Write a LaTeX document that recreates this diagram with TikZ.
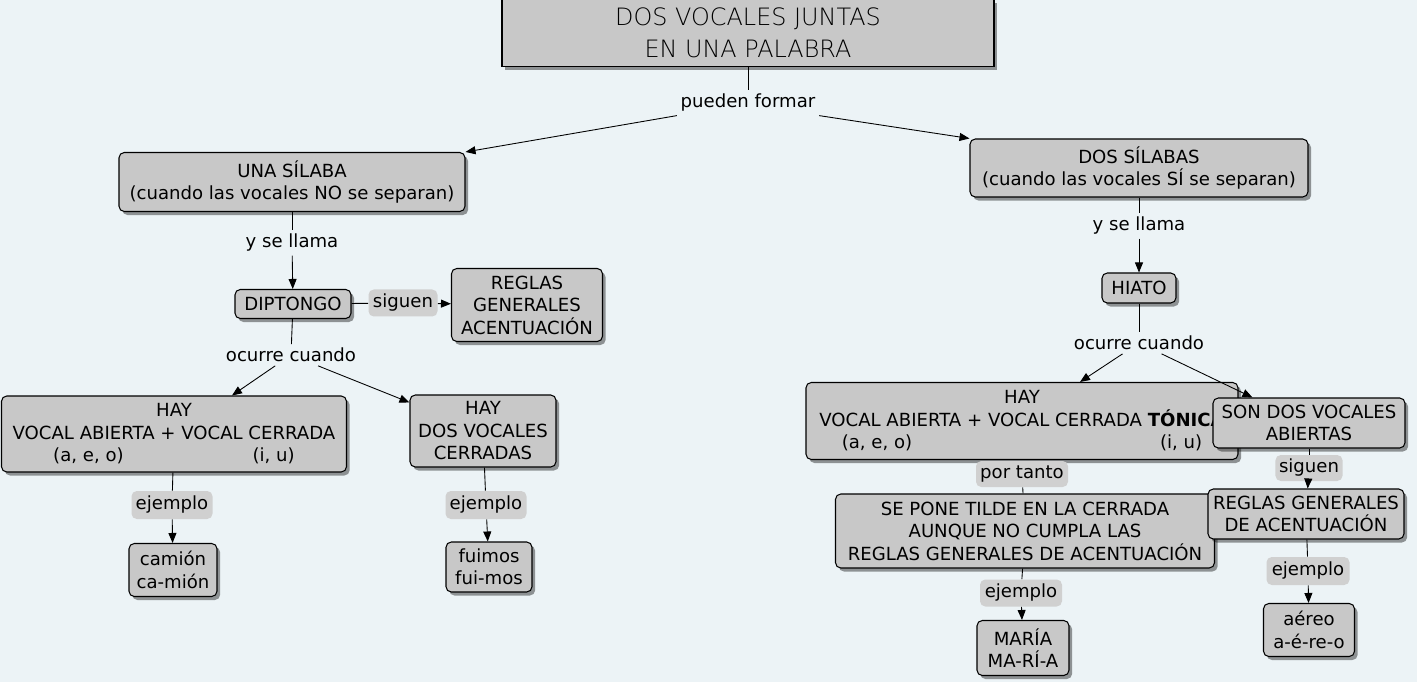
\documentclass[tikz,border=0pt]{standalone}
\usepackage{fontspec}
\setmainfont{DejaVu Sans}
\IfFontExistsTF{DejaVuSans-ExtraLight.ttf}{\newfontfamily\titlefont{DejaVuSans-ExtraLight.ttf}}{\newfontfamily\titlefont{DejaVu Sans}}
\usetikzlibrary{arrows.meta,positioning,shadows}
\definecolor{bgcol}{HTML}{ECF3F6}
\definecolor{boxgray}{HTML}{C8C8C8}
\definecolor{lblgray}{HTML}{D0D0D0}

\begin{document}
\begin{tikzpicture}[x=0.02cm,y=-0.02cm,
    cbox/.style={draw=black,line width=0.6pt,rounded corners=3pt,fill=boxgray,align=center,inner sep=2pt,
      font=\fontsize{10.3}{12.8}\selectfont,
      drop shadow={shadow xshift=1.8pt,shadow yshift=-2pt,fill=black,opacity=0.4}},
    sz/.style 2 args={minimum width=#1*0.02cm,minimum height=#2*0.02cm},
    lbl/.style={inner sep=2pt,align=center,font=\fontsize{10.3}{12.8}\selectfont},
    lblf/.style={lbl,fill=lblgray,rounded corners=3pt},
    arr/.style={-{Triangle[length=2mm,width=1.6mm]},line width=0.5pt},
    ln/.style={line width=0.5pt}]
    \fill[bgcol](0,0)rectangle(1417,682);
    \useasboundingbox(0,0)rectangle(1417,682);
    % top
    \node[cbox,sz={492}{67},rounded corners=0pt,font=\titlefont\fontsize{13.6}{18.2}\selectfont](top)at(748,33){DOS VOCALES JUNTAS\\EN UNA PALABRA};
    \node[lbl](pf)at(748,103){pueden formar};
    \node[cbox,sz={346}{59}](una)at(292,182){UNA SÍLABA\\(cuando las vocales NO se separan)};
    \node[cbox,sz={338}{58}](dos)at(1139,168){DOS SÍLABAS\\(cuando las vocales SÍ se separan)};
    % left branch
    \node[lbl](ysl1)at(292,243){y se llama};
    \node[cbox,sz={116}{29}](dip)at(293,304){DIPTONGO};
    \node[lblf,sz={69}{27}](sig1)at(403,303){siguen};
    \node[cbox,sz={151}{73}](reg1)at(527,305){REGLAS\\GENERALES\\ACENTUACIÓN};
    \node[lbl](oc1)at(291,355){ocurre cuando};
    \node[cbox,sz={345}{76}](hay1)at(174,434){HAY\\VOCAL ABIERTA + VOCAL CERRADA\\(a, e, o)\hspace{2.58cm}(i, u)};
    \node[cbox,sz={146}{72}](hayc)at(483,431){HAY\\DOS VOCALES\\CERRADAS};
    \node[lblf,sz={81}{28}](ej1)at(172,505){ejemplo};
    \node[cbox,sz={88}{53}](cam)at(173,570){camión\\ca-mión};
    \node[lblf,sz={81}{28}](ej2)at(486,505){ejemplo};
    \node[cbox,sz={86}{50}](fui)at(489,567){fuimos\\fui-mos};
    % right branch
    \node[lbl](ysl2)at(1139,226){y se llama};
    \node[cbox,sz={74}{30}](hia)at(1139,288){HIATO};
    \node[lbl](oc2)at(1139,343){ocurre cuando};
    \node[cbox,sz={432}{77}](hay2)at(1022,421){HAY\\VOCAL ABIERTA + VOCAL CERRADA \textbf{TÓNICA}\\(a, e, o)\hspace{4.96cm}(i, u)};
    \node[cbox,sz={192}{50}](son)at(1309,423){SON DOS VOCALES\\ABIERTAS};
    \node[lblf,sz={92}{26}](pt)at(1022,474){por tanto};
    \node[cbox,sz={379}{74}](tilde)at(1025,531){SE PONE TILDE EN LA CERRADA\\AUNQUE NO CUMPLA LAS\\REGLAS GENERALES DE ACENTUACIÓN};
    \node[lblf,sz={66}{26}](sig2)at(1309,468){siguen};
    \node[cbox,sz={196}{50}](reg2)at(1306,514){REGLAS GENERALES\\DE ACENTUACIÓN};
    \node[lblf,sz={82}{27}](ej3)at(1021,593){ejemplo};
    \node[cbox,sz={92}{55}](mar)at(1023,648){MARÍA\\MA-RÍ-A};
    \node[lblf,sz={83}{28}](ej4)at(1308,571){ejemplo};
    \node[cbox,sz={91}{53}](aer)at(1309,630){aéreo\\a-é-re-o};
    % links
    \draw[ln](top)--(pf);
    \draw[arr](pf.south west)--(una.north east);
    \draw[arr](pf.south east)--(dos.north west);
    \draw[ln](una)--(ysl1);\draw[arr](ysl1)--(dip);
    \draw[ln](dip)--(sig1);\draw[arr](sig1)--(reg1);
    \draw[ln](dip)--(oc1);
    \draw[arr](oc1)--([xshift=1.16cm]hay1.north);
    \draw[arr](oc1)--([yshift=-0.16cm]hayc.north west);
    \draw[ln](hay1)--(ej1);\draw[arr](ej1)--(cam);
    \draw[ln](hayc)--(ej2);\draw[arr](ej2)--(fui);
    \draw[ln](dos)--(ysl2);\draw[arr](ysl2)--(hia);
    \draw[ln](hia)--(oc2);
    \draw[arr](oc2)--([xshift=1.16cm]hay2.north);
    \draw[arr](oc2)--([xshift=0.8cm]son.north west);
    \draw[ln](pt)--(tilde);
    \draw[ln](son)--(sig2);\draw[arr](sig2)--(reg2);
    \draw[ln](tilde)--(ej3);\draw[arr](ej3)--(mar);
    \draw[ln](reg2)--(ej4);\draw[arr](ej4)--(aer);
  \end{tikzpicture}
\end{document}
